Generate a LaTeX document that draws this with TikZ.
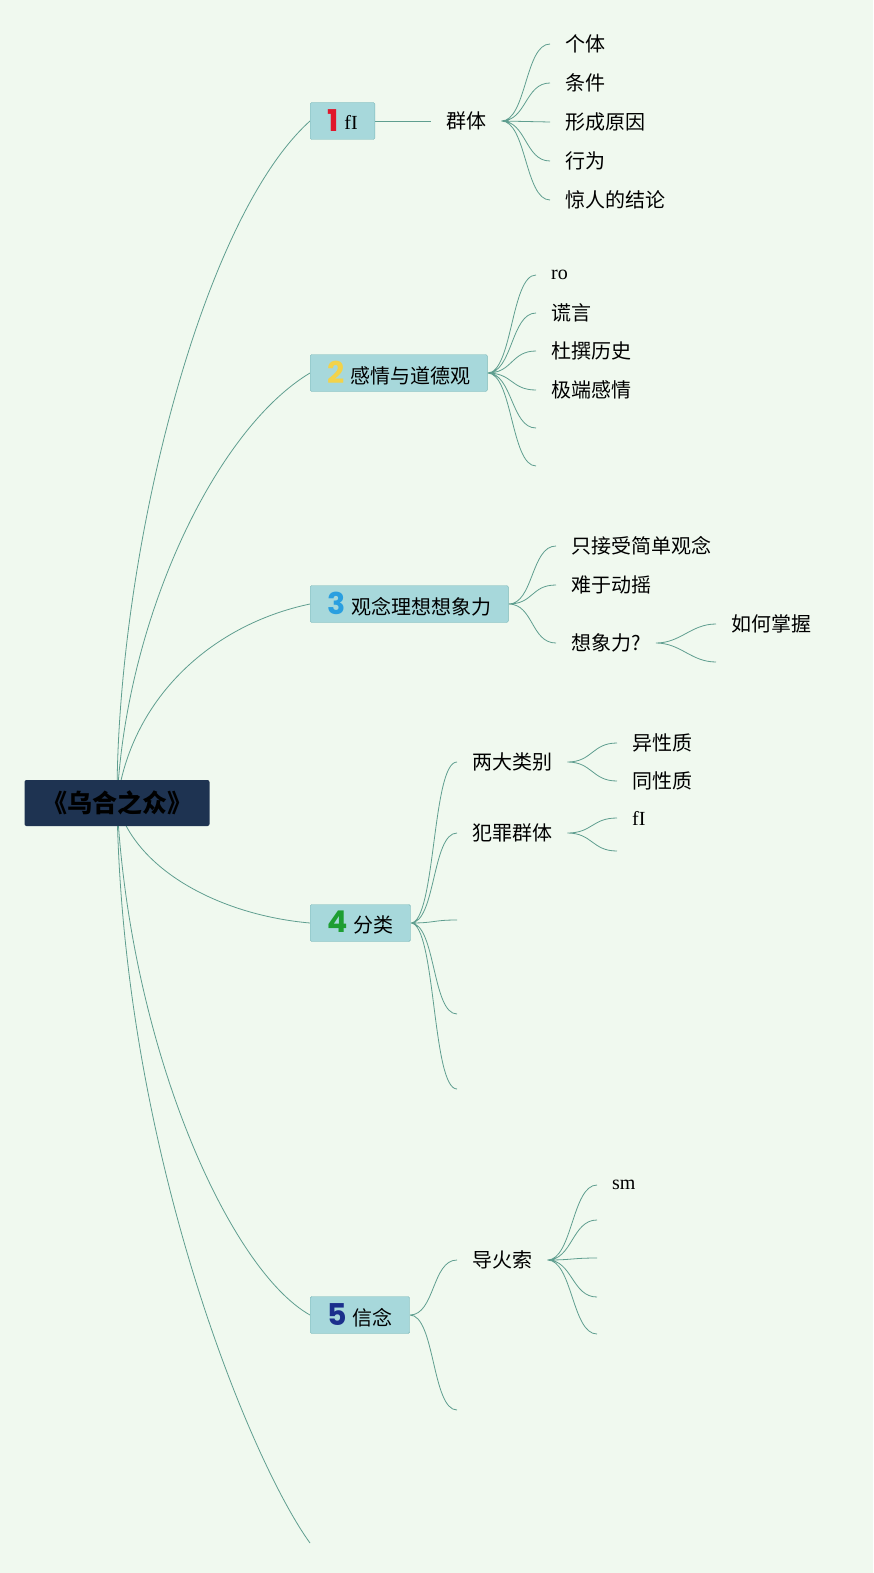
\documentclass[tikz,border=0pt]{standalone}
\usepackage{fontspec}
\newfontfamily\cjk{Noto Sans CJK SC}
\newfontfamily\numfont{Poppins}
\newfontfamily\latn{Liberation Serif}
\usetikzlibrary{backgrounds}

\definecolor{bgc}{HTML}{F0F9EF}
\definecolor{linec}{HTML}{5F9E8F}
\definecolor{topicfill}{HTML}{A7D8DB}
\definecolor{topicdraw}{HTML}{7BB8B8}
\definecolor{rootfill}{HTML}{1E3351}
\definecolor{numa}{HTML}{E0162B}
\definecolor{numb}{HTML}{F3D34A}
\definecolor{numc}{HTML}{2A9FE0}
\definecolor{numd}{HTML}{1E9E32}
\definecolor{nume}{HTML}{1B2F8C}

\newcommand\tnum[2]{{\numfont\bfseries\fontsize{30}{30}\selectfont\color{#1}#2}\hspace{6pt}}

\tikzset{
  root/.style={fill=rootfill, rounded corners=2pt, minimum width=185pt, minimum height=46pt,
    text=black, font=\cjk\bfseries\fontsize{25}{28}\selectfont},
  topic/.style={anchor=west, fill=topicfill, draw=topicdraw, rounded corners=1.5pt,
    inner xsep=17pt, inner ysep=0pt, minimum height=37pt, font=\cjk\fontsize{20}{24}\selectfont},
  sub/.style={anchor=west, inner xsep=15pt, inner ysep=2pt, font=\cjk\fontsize{20}{24}\selectfont},
  br/.style={draw=linec, line width=0.8pt},
  twig/.style={to path={.. controls +(25,0) and +(-25,0) .. (\tikztotarget)}},
}

\begin{document}
\begin{tikzpicture}[x=1pt, y=-1pt]
\useasboundingbox (0,0) rectangle (873,1573);

\node[root] (root) at (117,803) {《乌合之众》};

\node[topic] (t1) at (310,121) {\tnum{numa}{1}\raisebox{2pt}{\latn fI}};
\node[topic] (t2) at (310,373) {\tnum{numb}{2}感情与道德观};
\node[topic] (t3) at (310,604) {\tnum{numc}{3}观念理想想象力};
\node[topic] (t4) at (310,923) {\tnum{numd}{4}分类};
\node[topic] (t5) at (310,1315) {\tnum{nume}{5}信念};
\coordinate (t6) at (310,1543);

\node[sub] (qt) at (431,121) {群体};
\node[sub] (qt1) at (550,44) {个体};
\node[sub] (qt2) at (550,83) {条件};
\node[sub] (qt3) at (550,122) {形成原因};
\node[sub] (qt4) at (550,161) {行为};
\node[sub] (qt5) at (550,200) {惊人的结论};

\node[sub] (qg1) at (536,275) {\latn ro};
\node[sub] (qg2) at (536,313) {谎言};
\node[sub] (qg3) at (536,351) {杜撰历史};
\node[sub] (qg4) at (536,390) {极端感情};
\coordinate (qg5) at (536,428);
\coordinate (qg6) at (536,466);

\node[sub] (gn1) at (556,546) {只接受简单观念};
\node[sub] (gn2) at (556,585) {难于动摇};
\node[sub] (xx) at (556,643) {想象力?};
\node[sub] (xx1) at (716,624) {如何掌握};
\coordinate (xx2) at (716,662);

\node[sub] (lb) at (457,762) {两大类别};
\node[sub] (lb1) at (617,743) {异性质};
\node[sub] (lb2) at (617,781) {同性质};
\node[sub] (fz) at (457,833) {犯罪群体};
\node[sub] (fz1) at (617,818) {\latn fI};
\coordinate (fz2) at (617,851);
\coordinate (fl3) at (457,920);
\coordinate (fl4) at (457,1014);
\coordinate (fl5) at (457,1089);

\node[sub] (dh) at (457,1260) {导火索};
\node[sub] (dh1) at (597,1185) {\latn sm};
\coordinate (dh2) at (597,1220);
\coordinate (dh3) at (597,1258);
\coordinate (dh4) at (597,1297);
\coordinate (dh5) at (597,1334);
\coordinate (xn2) at (457,1410);

\begin{scope}[on background layer]
\fill[bgc] (0,0) rectangle (873,1573);
\draw[br] (root.center) .. controls (116,560) and (200,220) .. (t1.west);
\draw[br] (root.center) .. controls (125,620) and (215,430) .. (t2.west);
\draw[br] (root.center) .. controls (130,700) and (210,625) .. (t3.west);
\draw[br] (root.center) .. controls (135,870) and (220,915) .. (t4.west);
\draw[br] (root.center) .. controls (130,1050) and (230,1270) .. (t5.west);
\draw[br] (root.center) .. controls (122,1150) and (250,1460) .. (t6);

\draw[br] (t1.east) -- (qt.west);
\draw[br] (qt.east) to[twig] (qt1.west) (qt.east) to[twig] (qt2.west) (qt.east) to[twig] (qt3.west)
  (qt.east) to[twig] (qt4.west) (qt.east) to[twig] (qt5.west);

\draw[br] (t2.east) to[twig] (qg1.west) (t2.east) to[twig] (qg2.west) (t2.east) to[twig] (qg3.west)
  (t2.east) to[twig] (qg4.west) (t2.east) to[twig] (qg5) (t2.east) to[twig] (qg6);

\draw[br] (t3.east) to[twig] (gn1.west) (t3.east) to[twig] (gn2.west) (t3.east) to[twig] (xx.west);
\draw[br] (xx.east) to[twig] (xx1.west) (xx.east) to[twig] (xx2);

\draw[br] (t4.east) to[twig] (lb.west) (t4.east) to[twig] (fz.west) (t4.east) to[twig] (fl3)
  (t4.east) to[twig] (fl4) (t4.east) to[twig] (fl5);
\draw[br] (lb.east) to[twig] (lb1.west) (lb.east) to[twig] (lb2.west);
\draw[br] (fz.east) to[twig] (fz1.west) (fz.east) to[twig] (fz2);

\draw[br] (t5.east) to[twig] (dh.west) (t5.east) to[twig] (xn2);
\draw[br] (dh.east) to[twig] (dh1.west) (dh.east) to[twig] (dh2) (dh.east) to[twig] (dh3)
  (dh.east) to[twig] (dh4) (dh.east) to[twig] (dh5);
\end{scope}
\end{tikzpicture}
\end{document}
